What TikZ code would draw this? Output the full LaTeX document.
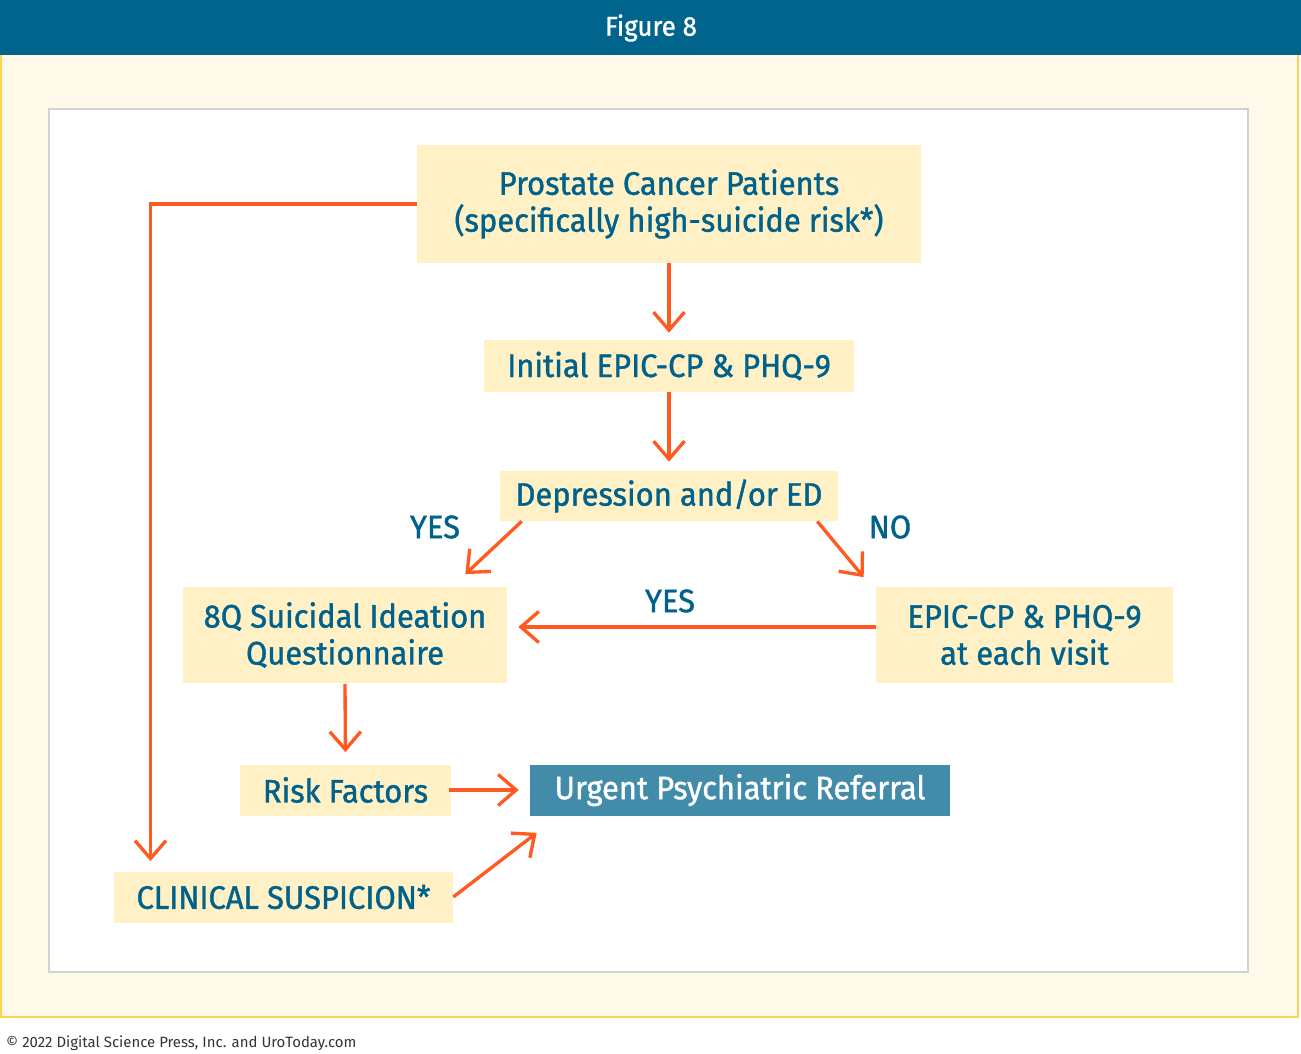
\documentclass[tikz,border=0pt]{standalone}
\usepackage{fontspec}
\setmainfont{Fira Sans}[FakeStretch=0.95,FakeBold=1.2]
\newfontfamily\footfont{Fira Sans}
\usetikzlibrary{arrows.meta,calc}
\definecolor{headblue}{HTML}{00648C}
\definecolor{cream}{HTML}{FFF9EA}
\definecolor{frameyellow}{HTML}{FFD34E}
\definecolor{boxfill}{HTML}{FFF0C6}
\definecolor{textblue}{HTML}{00628A}
\definecolor{urgblue}{HTML}{428BA9}
\definecolor{arrorange}{HTML}{FF5A22}
\definecolor{panelgray}{HTML}{D2D2D2}
\begin{document}
\begin{tikzpicture}[x=0.02cm,y=-0.02cm,
  box/.style={fill=boxfill,text=textblue,inner sep=0pt,align=center,font=\fontsize{18.5}{21}\selectfont},
  lbl/.style={text=textblue,font=\fontsize{18.5}{21}\selectfont},
  arr/.style={draw=arrorange,line width=1.9pt,-{Straight Barb[length=0.36cm,width=0.62cm,line width=1.9pt]}}]
  \useasboundingbox (0,0) rectangle (1301,1054);
  \fill[headblue] (0,0) rectangle (1301,55);
  \node[text=white,font=\fontsize{15.5}{18}\selectfont] (title) at (651,28) {Figure 8};
  \draw[frameyellow,fill=cream,line width=1.2pt] (1,55) -- (1,1017) -- (1298,1017) -- (1298,55);
  \draw[panelgray,fill=white,line width=1.2pt] (49,109) rectangle (1248,972);
  \node[box,minimum width=10.08cm,minimum height=2.36cm] (pc) at (669,204) {Prostate Cancer Patients\\(specifically high-suicide risk*)};
  \node[box,minimum width=7.4cm,minimum height=1.04cm] (init) at (669,366) {Initial EPIC-CP \& PHQ-9};
  \node[box,minimum width=6.76cm,minimum height=1.0cm] (dep) at (669,496) {Depression and/or ED};
  \node[box,minimum width=6.48cm,minimum height=1.94cm] (q8) at (345,635) {8Q Suicidal Ideation\\Questionnaire};
  \node[box,minimum width=5.94cm,minimum height=1.94cm] (epic) at (1024.5,635) {EPIC-CP \& PHQ-9\\at each visit};
  \node[box,minimum width=4.22cm,minimum height=1.02cm] (risk) at (345.5,790) {Risk Factors};
  \node[box,fill=urgblue,text=white,minimum width=8.4cm,minimum height=1.02cm] (urg) at (740,790) {Urgent Psychiatric Referral};
  \node[box,minimum width=6.78cm,minimum height=1.02cm] (clin) at (283.5,897) {CLINICAL SUSPICION*};
  \node[lbl] (yes1) at (435,527) {YES};
  \node[lbl] (no) at (890,527) {NO};
  \node[lbl] (yes2) at (670,601) {YES};
  \draw[arr,shorten >=0.14cm] (pc.south) -- (init.north);
  \draw[arr,shorten >=0.18cm] (init.south) -- (dep.north);
  \draw[arr] ($(dep.south west)+(22,0)$) -- ($(q8.north east)+(-42,-12)$);
  \draw[arr] ($(dep.south east)+(-21,0)$) -- ($(epic.north west)+(-12,-9)$);
  \draw[arr,shorten >=0.22cm] ($(epic.west)+(0,-8)$) -- ($(q8.east)+(0,-8)$);
  \draw[arr,shorten >=0.24cm] (q8.south) -- (risk.north);
  \draw[arr,shorten <=-0.04cm,shorten >=0.22cm] (risk.east) -- (urg.west);
  \draw[arr] (clin.east) -- ($(urg.south west)+(7,17)$);
  \draw[arr] (pc.west) -| ($(clin.north)+(-133,-10)$);
  \node[anchor=west,text=black!80,font=\footfont\fontsize{8.5}{10}\selectfont] (copy) at (0,1043) {\textcopyright{} 2022 Digital Science Press, Inc. and UroToday.com};
\end{tikzpicture}
\end{document}
